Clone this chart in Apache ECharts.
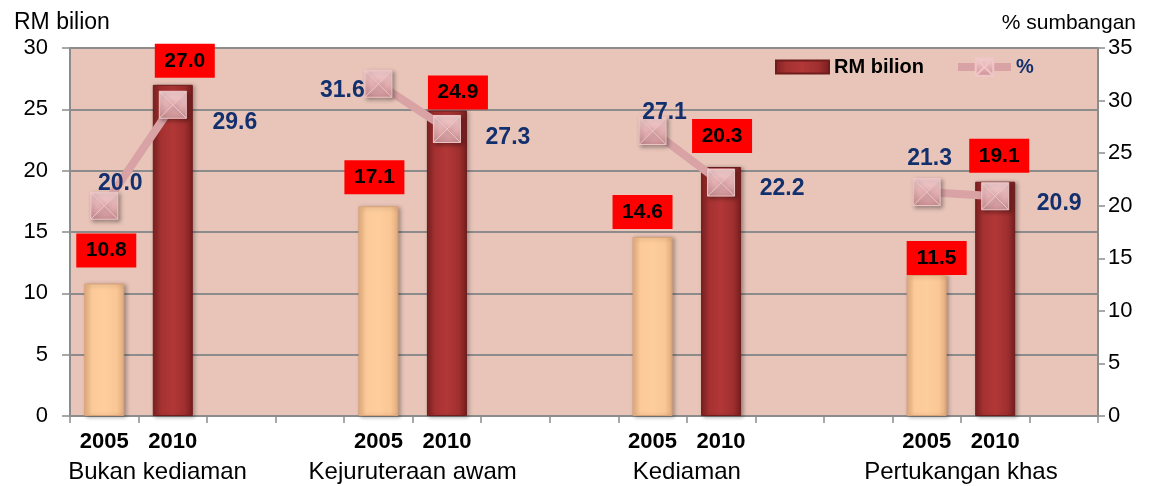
<!DOCTYPE html>
<html>
<head>
<meta charset="utf-8">
<script src="https://cdn.jsdelivr.net/npm/echarts@6/dist/echarts.min.js"></script>
<style>
html,body{margin:0;padding:0;background:#fff;}
#chart{width:1153px;height:486px;}
</style>
</head>
<body>
<div id="chart"></div>
<script>
// ---- data ----
const groups = ['Bukan kediaman', 'Kejuruteraan awam', 'Kediaman', 'Pertukangan khas'];
const years = ['2005', '2010'];
const rm2005 = [10.8, 17.1, 14.6, 11.5];
const rm2010 = [27.0, 24.9, 20.3, 19.1];
const pct2005 = [20.0, 31.6, 27.1, 21.3];
const pct2010 = [29.6, 27.3, 22.2, 20.9];
const leftAxisName = 'RM bilion';
const rightAxisName = '% sumbangan';
const barSeriesName = 'RM bilion';
const lineSeriesName = '%';

// ---- label placement (style, not data) ----
const barLabelShift2005 = [[2, 16], [-4, 12], [-10, 8], [10, 0]];
const barLabelShift2010 = [[12, 7], [11, 1], [1, 14], [4, 9]];
const pctLabelShift2005 = [[16, -22], [-36, 7], [12, -18], [3, -33]];
const pctLabelShift2010 = [[62, 18], [61, 9], [61, 6], [64, 7]];

const FONT = '"Liberation Sans", Arial, sans-serif';
const NAVY = '#13306E';

const darkRed = new echarts.graphic.LinearGradient(0, 0, 1, 0, [
  {offset: 0, color: '#7E2222'}, {offset: 0.2, color: '#A53131'},
  {offset: 0.5, color: '#B23737'}, {offset: 0.8, color: '#A02F2F'},
  {offset: 1, color: '#771E1E'}]);
const peach = new echarts.graphic.LinearGradient(0, 0, 1, 0, [
  {offset: 0, color: '#E9B384'}, {offset: 0.2, color: '#FCCA98'},
  {offset: 0.5, color: '#FDCD9C'}, {offset: 0.8, color: '#FAC795'},
  {offset: 1, color: '#E3AC7E'}]);
const markerFill = new echarts.graphic.LinearGradient(0, 0, 0, 1, [
  {offset: 0, color: '#F6D2D3'}, {offset: 0.45, color: '#E8B4B6'},
  {offset: 1, color: '#CC9194'}]);

// build slots: per group 2005, 2010, blank, blank (last group: one blank)
const yearCats = [], barData = [], lineData = [];
groups.forEach((g, i) => {
  yearCats.push(years[0], years[1]);
  barData.push({
    value: rm2005[i],
    itemStyle: {color: peach, borderColor: '#D9A277'},
    label: {offset: [barLabelShift2005[i][0], -barLabelShift2005[i][1]]}
  });
  barData.push({
    value: rm2010[i],
    label: {offset: [barLabelShift2010[i][0], -barLabelShift2010[i][1]]}
  });
  lineData.push({value: pct2005[i], label: {offset: pctLabelShift2005[i]}});
  lineData.push({value: pct2010[i], label: {offset: pctLabelShift2010[i]}});
  const blanks = i < groups.length - 1 ? 2 : 1;
  for (let b = 0; b < blanks; b++) {
    yearCats.push('');
    barData.push('-');
    lineData.push('-');
  }
});
// group label axis: boundaries (n+1 positions), group label between its two years
const groupCats = new Array(yearCats.length + 1).fill('');
groups.forEach((g, i) => { groupCats[i * 4 + 1] = g; });

const chart = echarts.init(document.getElementById('chart'), null, {renderer: 'canvas'});
chart.setOption({
  animation: false,
  textStyle: {fontFamily: FONT},
  title: [
    {text: leftAxisName, left: 9, top: 6,
     textStyle: {fontFamily: FONT, fontSize: 23, fontWeight: 'normal', color: '#000'}},
    {text: rightAxisName, right: 12, top: 8,
     textStyle: {fontFamily: FONT, fontSize: 21, fontWeight: 'normal', color: '#000'}}
  ],
  legend: {
    left: 770, top: 52,
    itemWidth: 53, itemHeight: 22, itemGap: 30,
    data: [
      {name: barSeriesName, icon: 'path://M0,0H53V13H0Z', textStyle: {color: '#000'}},
      {name: lineSeriesName, textStyle: {color: NAVY},
       lineStyle: {width: 8, color: '#D9A2A5'}}
    ],
    textStyle: {fontFamily: FONT, fontSize: 20, fontWeight: 'bold'}
  },
  grid: {left: 70, right: 55, top: 48, bottom: 70, show: true,
         backgroundColor: '#E9C5B9', borderWidth: 0},
  xAxis: [
    {type: 'category', data: yearCats, position: 'bottom',
     axisLine: {lineStyle: {color: '#8C8C8C', width: 2}},
     axisTick: {show: true, interval: 0, length: 7, lineStyle: {color: '#8C8C8C', width: 1.5}},
     axisLabel: {interval: 0, margin: 15, fontFamily: FONT, fontSize: 22,
                 fontWeight: 'bold', color: '#000'},
     splitLine: {show: false}},
    {type: 'category', data: groupCats, position: 'bottom', boundaryGap: false,
     axisLine: {show: false}, axisTick: {show: false},
     axisLabel: {interval: 0, margin: 44, fontFamily: FONT, fontSize: 24, color: '#000',
       formatter: (v, idx) => idx === 1 ? '{s|' + v + '}' : v,
       rich: {s: {fontFamily: FONT, fontSize: 24, color: '#000', padding: [0, 0, 0, 38]}}},
     splitLine: {show: false}}
  ],
  yAxis: [
    {type: 'value', min: 0, max: 30, interval: 5, position: 'left',
     axisLine: {show: true, lineStyle: {color: '#8C8C8C', width: 2}},
     axisTick: {show: true, length: 8, lineStyle: {color: '#8C8C8C', width: 1.5}},
     axisLabel: {margin: 22, fontFamily: FONT, fontSize: 22, color: '#000'},
     splitLine: {show: true, lineStyle: {color: '#8C8C8C', width: 2}}},
    {type: 'value', min: 0, max: 35, interval: 5, position: 'right',
     axisLine: {show: true, lineStyle: {color: '#8C8C8C', width: 2}},
     axisTick: {show: true, length: 7, lineStyle: {color: '#8C8C8C', width: 1.5}},
     axisLabel: {margin: 10, fontFamily: FONT, fontSize: 22, color: '#000'},
     splitLine: {show: false}}
  ],
  series: [
    {name: barSeriesName, type: 'bar', xAxisIndex: 0, yAxisIndex: 0,
     barWidth: 40, z: 2,
     itemStyle: {color: darkRed, borderColor: '#6E1C1C', borderWidth: 1,
                 shadowBlur: 4, shadowOffsetX: 2, shadowOffsetY: 1, shadowColor: 'rgba(0,0,0,0.3)'},
     label: {show: true, position: 'top', distance: 0,
             formatter: p => Number(p.value).toFixed(1),
             backgroundColor: '#FF0000', color: '#000', fontFamily: FONT,
             fontSize: 21, fontWeight: 'bold', width: 40, height: 22, lineHeight: 22,
             align: 'center', padding: [6, 10, 6, 10]},
     data: barData},
    {name: lineSeriesName, type: 'line', xAxisIndex: 0, yAxisIndex: 1, z: 5,
     connectNulls: false,
     symbol: 'path://M0,0L20,0L20,20L0,20Z M0,0L20,20 M20,0L0,20',
     symbolSize: 27,
     lineStyle: {color: '#D9A2A5', width: 8},
     itemStyle: {
       color: markerFill,
       borderColor: '#EFC6C8', borderWidth: 1,
       shadowBlur: 4, shadowOffsetX: 2, shadowOffsetY: 2, shadowColor: 'rgba(0,0,0,0.35)'},
     label: {show: true, position: 'inside', formatter: p => Number(p.value).toFixed(1),
             color: NAVY, fontFamily: FONT, fontSize: 23, fontWeight: 'bold'},
     data: lineData}
  ]
});
</script>
</body>
</html>
